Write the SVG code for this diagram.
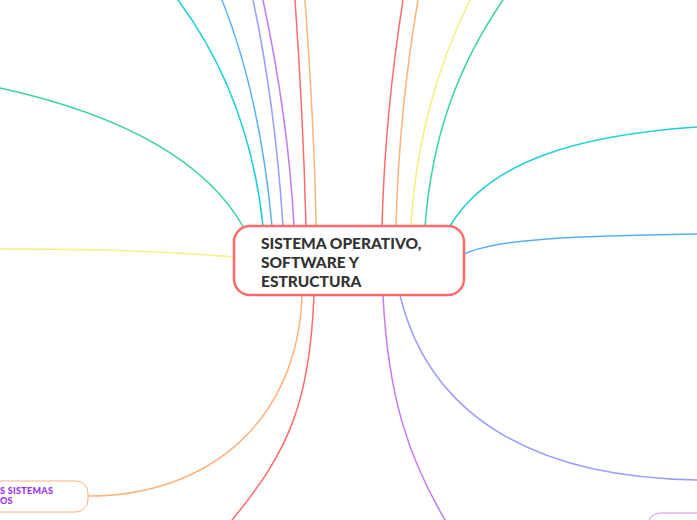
<svg xmlns="http://www.w3.org/2000/svg" width="697" height="520" viewBox="0 0 697 520">
<style>
.c{fill:none;stroke-width:1.5;stroke-linecap:round}
.red{stroke:#FF6B6B}.ora{stroke:#FFB27A}.yel{stroke:#F8EE80}.grn{stroke:#3DD39A}
.cya{stroke:#1ECFD6}.blu{stroke:#5AAEF7}.per{stroke:#9A9CFF}.pur{stroke:#C57BF0}
.main{font-family:Lato,"Open Sans",sans-serif;font-weight:900;font-size:15.5px;fill:#333}
.sub{font-family:Lato,"Open Sans",sans-serif;font-weight:900;font-size:9px;letter-spacing:0.3px;fill:#9B30F0}
</style>
<rect width="697" height="520" fill="#fff"/>
<g id="connectors">
<path class="c cya" d="M263,226 C255,150 230,70 178,0"/>
<path class="c blu" d="M272,226 C265,150 250,70 222,0"/>
<path class="c per" d="M283,226 C278,150 268,70 253,0"/>
<path class="c pur" d="M294,226 C290,150 278,70 263,0"/>
<path class="c red" d="M306,226 C304,150 300,70 295,0"/>
<path class="c ora" d="M316,226 C315,150 310,70 305,0"/>
<path class="c red" d="M382,226 C384,150 392,70 403,0"/>
<path class="c ora" d="M396,226 C398,150 406,70 418,0"/>
<path class="c yel" d="M411,226 C415,150 435,70 470,0"/>
<path class="c grn" d="M425,226 C432,140 455,70 503,0"/>
<path class="c cya" d="M450,226 C490,160 580,135 697,127"/>
<path class="c blu" d="M464,254 C500,238 580,236 697,234"/>
<path class="c grn" d="M244,228 C200,150 100,110 0,88"/>
<path class="c yel" d="M234,257 C150,250 80,249 0,249"/>
<path class="c ora" d="M302,295 C298,420 210,496 88,496"/>
<path class="c red" d="M314,295 C310,400 290,450 232,520"/>
<path class="c pur" d="M383,295 C388,400 410,460 445,520"/>
<path class="c per" d="M400,295 C430,420 540,478 697,480"/>
</g>
<g id="node-main">
<rect x="234" y="226" width="230" height="69" rx="16" fill="#fff" stroke="#FF6B6B" stroke-width="2.5"/>
<text class="main" x="261" y="249">SISTEMA OPERATIVO,</text>
<text class="main" x="261" y="268">SOFTWARE Y</text>
<text class="main" x="261" y="287">ESTRUCTURA</text>
</g>
<g id="node-tipos">
<rect x="-40" y="481" width="128" height="31" rx="12" fill="#fff" stroke="#FFB27A" stroke-width="1"/>
<text class="sub" x="0" y="494">S SISTEMAS</text>
<text class="sub" x="0" y="504">OS</text>
</g>
<g id="node-br">
<rect x="648" y="513" width="100" height="40" rx="12" fill="#fff" stroke="#D08EF0" stroke-width="1"/>
</g>
</svg>
